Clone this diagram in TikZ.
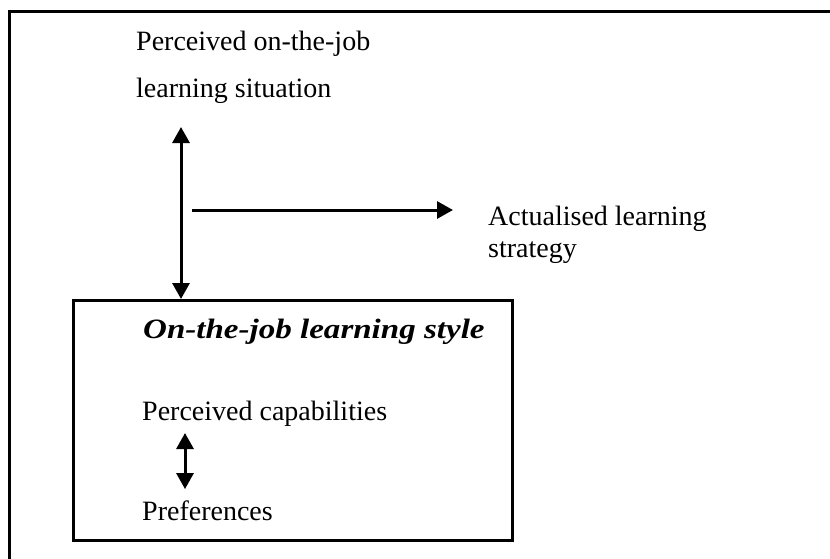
\documentclass[tikz,border=0pt]{standalone}
\usepackage{fontspec}
\setmainfont{Liberation Serif}
\newfontfamily\widefont[FakeStretch=1.18]{Liberation Serif}
\usetikzlibrary{arrows.meta}
\tikzstyle{txt} = [inner sep=0pt, anchor=base west, align=left, font=\fontsize{28}{47}\selectfont]
\tikzstyle{frame} = [draw=black, line width=3pt]
\tikzstyle{arrow} = [line width=3pt, -{Triangle[length=16pt,width=17pt]}]
\tikzstyle{biarrow} = [line width=3pt, {Triangle[length=16pt,width=17pt]}-{Triangle[length=16pt,width=17pt]}]

\begin{document}
\begin{tikzpicture}[x=1pt, y=-1pt]
                \useasboundingbox (0,0) rectangle (830,558);
                % outer frame runs off the page on the right and bottom
                \draw [frame] (9,11) rectangle (850,580);

                % base of a two-line node is its last line
                \node (situation) [txt] at (136,97) {Perceived on-the-job\\learning situation};
                \node (strategy) [txt, font=\fontsize{28}{32}\selectfont] at (488,257) {Actualised learning\\strategy};

% ---------------------------------------------
% Learning style box
% ---------------------------------------------
                \node (stylebox) [frame, minimum width=439pt, minimum height=240pt, anchor=north west] at (72,299) {};
                \node (title) [txt, font=\fontsize{28}{32}\widefont\bfseries\itshape] at (143,338) {On-the-job learning style};
                \node (capabilities) [txt] at (142,420) {Perceived capabilities};
                \node (preferences) [txt] at (142,520) {Preferences};

% ---------------------------------------------
% All arrows
% ---------------------------------------------
                \coordinate (vtop) at (181,127);
                \coordinate (hstart) at (192,210);
                \coordinate (ptop) at (185,433);
                \draw [biarrow] (vtop) -- (vtop |- stylebox.north);
                \draw [arrow, shorten >=35pt] (hstart) -- (hstart -| strategy.west);
                \draw [biarrow, shorten >=11pt] (ptop) -- (ptop |- preferences.north);

            \end{tikzpicture}
\end{document}
